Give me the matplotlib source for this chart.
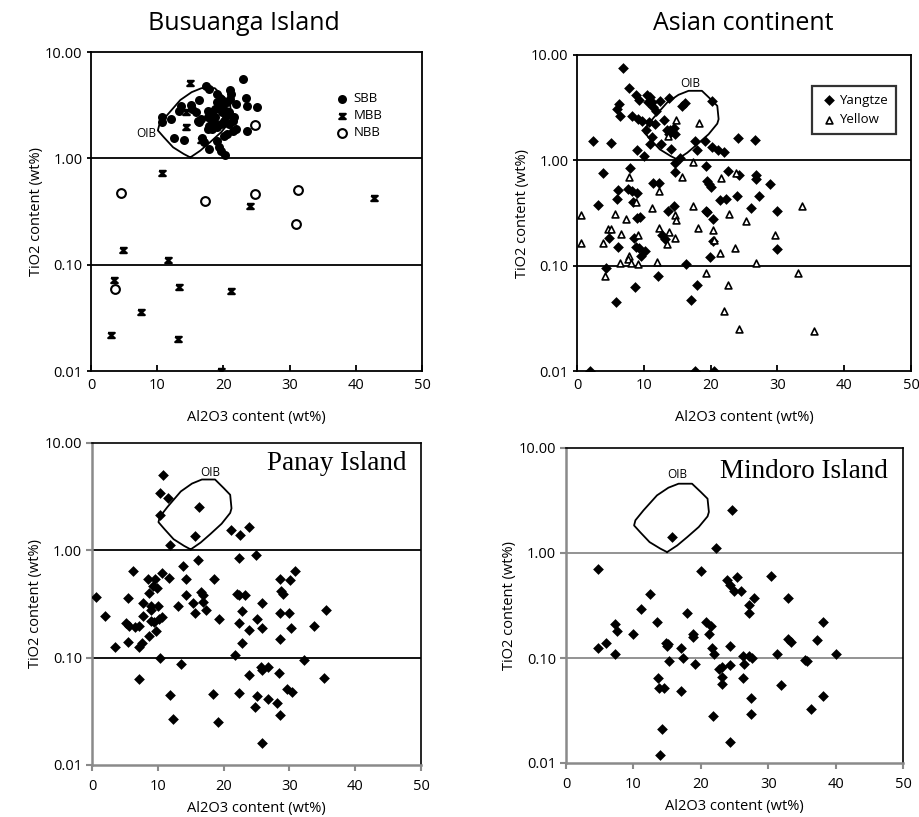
import matplotlib
matplotlib.use("Agg")
import matplotlib.pyplot as plt
import numpy as np
from matplotlib.path import Path
from matplotlib.ticker import NullLocator

# ---------------- data ----------------
oib_al = [15.0, 14.0, 12.4, 11.0, 10.1, 10.3, 11.5, 13.5, 15.2, 16.7, 18.7, 20.0, 21.0, 21.2,
          21.0, 19.7, 18.0, 16.5, 15.0]
oib_ti = [1.02, 1.10, 1.27, 1.58, 1.83, 2.05, 2.55, 3.54, 4.19, 4.57, 4.57, 3.81, 3.29, 2.46,
          2.23, 1.77, 1.42, 1.18, 1.02]

# Busuanga Island
sbb_al = [23.0, 17.3, 17.8, 19.1, 21.0, 21.1, 21.0, 19.6, 20.6, 19.1, 21.9, 23.4, 23.5, 25.1,
          16.3, 15.1, 13.6, 13.3, 10.8, 12.1, 10.8, 12.6, 14.1, 16.3, 16.1, 16.6, 17.6, 18.3,
          18.8, 19.3, 19.8, 20.4, 20.1, 19.6, 19.1, 18.3, 17.6, 17.8, 18.6, 20.9, 21.4, 21.6,
          21.9, 21.4, 20.6, 20.1, 23.6, 16.7, 17.1, 17.8, 19.1, 19.3, 19.6, 20.2, 17.6, 19.8,
          20.4, 20.9, 18.1, 18.8, 15.8, 15.3]
sbb_ti = [5.57, 4.75, 4.49, 4.03, 4.39, 4.03, 3.61, 3.61, 3.36, 3.36, 3.24, 3.69, 3.13, 3.02,
          3.54, 3.20, 3.13, 2.81, 2.47, 2.34, 2.18, 1.57, 1.50, 2.18, 2.26, 2.34, 2.43, 2.71,
          2.91, 3.02, 2.71, 2.52, 2.26, 2.10, 1.96, 1.89, 1.89, 2.03, 2.18, 2.10, 2.26, 2.43,
          1.89, 1.79, 1.69, 1.63, 1.82, 1.55, 1.41, 1.22, 1.47, 1.29, 1.18, 1.08, 2.81, 3.13,
          2.81, 2.71, 2.34, 2.43, 2.71, 2.91]
mbb_al = [15.0, 14.3, 14.4, 16.6, 10.8, 42.7, 24.0, 4.8, 11.6, 3.4, 13.3, 21.1, 7.6, 3.0, 13.1, 19.6]
mbb_ti = [5.07, 2.75, 1.99, 1.49, 0.73, 0.42, 0.36, 0.138, 0.111, 0.072, 0.061, 0.057, 0.036,
          0.022, 0.020, 0.010]
nbb_al = [24.8, 4.5, 17.2, 24.7, 31.3, 30.9, 3.7]
nbb_ti = [2.07, 0.47, 0.40, 0.46, 0.50, 0.24, 0.059]

# Asian continent
yangtze_al = [6.85, 7.8, 8.8, 9.35, 6.3, 5.95, 6.45, 8.2, 9.2, 9.75, 10.45, 10.95, 11.2, 10.7,
              11.45, 11.85, 12.45, 13.8, 10.85, 11.7, 10.35, 12.95, 13.45, 13.95, 13.7, 14.45,
              14.7, 16.2, 15.7, 20.2, 2.35, 5.1, 11.25, 10.95, 12.55, 14.1, 8.95, 10.1, 15.35,
              17.6, 17.95, 19.1, 20.2, 21.1, 22.05, 24.1, 26.7, 14.7, 7.95, 19.35, 3.95, 14.6,
              22.55, 24.2, 26.8, 26.8, 28.85, 11.45, 12.35, 19.45, 19.75, 20.05, 6.2, 7.6, 8.2,
              8.95, 6.05, 8.35, 3.2, 21.45, 22.35, 23.95, 27.25, 14.5, 13.55, 19.3, 19.45, 20.3,
              26.1, 29.95, 9.45, 8.95, 4.75, 8.55, 12.75, 13.1, 20.35, 6.2, 8.8, 9.35, 10.2, 9.6,
              19.85, 29.95, 4.35, 16.35, 12.2, 8.75, 17.95, 17.05, 5.8, 2.0, 17.7, 20.5]
yangtze_ti = [7.5, 4.87, 4.2, 3.75, 3.44, 3.08, 2.61, 2.61, 2.46, 2.37, 4.2, 3.97, 3.56, 3.56,
              3.2, 2.93, 3.62, 3.89, 2.31, 2.22, 1.95, 2.39, 1.95, 1.92, 1.76, 2.04, 1.76, 3.49,
              3.31, 3.62, 1.52, 1.46, 1.66, 1.42, 1.44, 1.29, 1.26, 1.09, 1.06, 1.51, 1.26, 1.51,
              1.34, 1.24, 1.2, 1.63, 1.57, 0.94, 0.85, 0.89, 0.75, 0.78, 0.79, 0.72, 0.72, 0.67,
              0.59, 0.61, 0.61, 0.64, 0.59, 0.56, 0.52, 0.53, 0.51, 0.49, 0.43, 0.40, 0.38, 0.42,
              0.43, 0.46, 0.46, 0.37, 0.33, 0.33, 0.32, 0.28, 0.35, 0.33, 0.29, 0.284, 0.185,
              0.185, 0.195, 0.179, 0.17, 0.151, 0.149, 0.146, 0.139, 0.123, 0.122, 0.143, 0.096,
              0.103, 0.079, 0.063, 0.065, 0.047, 0.045, 0.010, 0.010, 0.010]
yellow_al = [14.85, 18.2, 13.6, 17.35, 7.8, 15.7, 21.55, 23.85, 12.35, 8.85, 11.2, 17.35, 33.7,
             0.55, 5.7, 7.3, 14.6, 14.85, 22.7, 25.35, 4.6, 5.1, 12.3, 13.8, 18.1, 20.3, 6.55,
             9.2, 14.6, 29.7, 0.55, 3.95, 13.45, 20.45, 23.6, 21.35, 7.85, 7.7, 6.45, 8.1, 9.1,
             12.05, 26.85, 4.2, 19.3, 33.1, 22.6, 21.95, 24.3, 35.55]
yellow_ti = [2.43, 2.26, 1.69, 0.96, 0.69, 0.70, 0.68, 0.75, 0.51, 0.40, 0.35, 0.37, 0.37, 0.30,
             0.31, 0.28, 0.30, 0.27, 0.31, 0.265, 0.225, 0.225, 0.23, 0.21, 0.23, 0.22, 0.20,
             0.195, 0.184, 0.195, 0.163, 0.165, 0.159, 0.175, 0.146, 0.131, 0.123, 0.115, 0.105,
             0.107, 0.104, 0.109, 0.107, 0.080, 0.086, 0.085, 0.066, 0.037, 0.025, 0.024]

# Panay Island
panay_al = [10.8, 10.4, 11.5, 16.2, 10.4, 15.7, 11.9, 21.2, 22.5, 23.9, 24.9, 22.4, 16.1, 13.9,
            6.2, 10.7, 11.7, 8.5, 9.5, 9.9, 9.3, 14.3, 18.5, 28.5, 30.1, 30.9, 0.56, 5.5, 8.6,
            14.3, 16.6, 16.9, 22.0, 22.3, 23.2, 28.7, 29.1, 7.8, 8.9, 10.0, 13.1, 15.3, 16.9,
            17.3, 25.9, 1.9, 7.7, 9.0, 8.9, 9.4, 10.2, 10.7, 15.7, 19.3, 22.8, 22.4, 25.0, 28.6,
            29.9, 35.6, 5.2, 5.6, 6.6, 7.1, 9.7, 23.8, 25.9, 30.2, 33.7, 8.6, 5.4, 3.5, 7.2, 7.6,
            22.8, 28.5, 21.7, 10.4, 32.2, 13.5, 25.7, 25.9, 26.8, 23.8, 28.4, 7.2, 35.2, 29.7,
            30.4, 11.9, 18.4, 22.3, 25.1, 26.7, 28.1, 24.8, 28.5, 12.3, 19.1, 25.8]
panay_ti = [5.07, 3.42, 3.07, 2.52, 2.13, 1.36, 1.12, 1.56, 1.39, 1.64, 0.905, 0.85, 0.82, 0.72,
            0.64, 0.61, 0.55, 0.54, 0.54, 0.45, 0.47, 0.54, 0.54, 0.54, 0.53, 0.64, 0.365, 0.357,
            0.40, 0.38, 0.41, 0.38, 0.39, 0.38, 0.38, 0.42, 0.39, 0.32, 0.30, 0.30, 0.305, 0.32,
            0.33, 0.28, 0.32, 0.243, 0.246, 0.28, 0.22, 0.215, 0.23, 0.24, 0.26, 0.23, 0.27,
            0.21, 0.23, 0.26, 0.26, 0.28, 0.21, 0.196, 0.193, 0.196, 0.177, 0.18, 0.19, 0.19,
            0.196, 0.158, 0.14, 0.126, 0.126, 0.137, 0.137, 0.149, 0.106, 0.099, 0.096, 0.087,
            0.082, 0.076, 0.081, 0.069, 0.072, 0.063, 0.065, 0.051, 0.048, 0.045, 0.046, 0.047,
            0.044, 0.041, 0.038, 0.035, 0.029, 0.027, 0.025, 0.016]

# Mindoro Island
mindoro_al = [24.6, 15.7, 22.2, 4.7, 20.0, 25.4, 30.4, 23.9, 24.4, 24.9, 25.9, 12.4, 27.9, 33.0,
              27.2, 27.2, 11.2, 17.9, 13.5, 20.7, 21.5, 38.1, 7.3, 7.6, 9.9, 18.8, 18.8, 21.2,
              6.0, 14.9, 15.2, 15.0, 17.0, 4.7, 21.7, 21.9, 24.4, 32.9, 33.4, 37.3, 7.2, 17.3,
              15.3, 19.1, 26.2, 27.2, 27.6, 26.4, 31.3, 35.5, 35.7, 40.1, 22.7, 23.2, 24.3, 23.1,
              23.2, 26.3, 13.6, 13.8, 14.6, 17.0, 31.9, 27.4, 38.1, 36.4, 27.5, 21.8, 14.3, 24.3,
              13.9]
mindoro_ti = [2.55, 1.42, 1.12, 0.71, 0.67, 0.59, 0.60, 0.55, 0.50, 0.43, 0.43, 0.41, 0.37, 0.37,
              0.32, 0.27, 0.29, 0.27, 0.22, 0.22, 0.20, 0.22, 0.21, 0.18, 0.17, 0.17, 0.16, 0.17,
              0.14, 0.14, 0.137, 0.13, 0.125, 0.124, 0.125, 0.11, 0.13, 0.153, 0.142, 0.15, 0.108,
              0.10, 0.093, 0.087, 0.104, 0.104, 0.099, 0.088, 0.11, 0.095, 0.093, 0.11, 0.079,
              0.082, 0.085, 0.066, 0.056, 0.064, 0.065, 0.052, 0.052, 0.049, 0.055, 0.042, 0.043,
              0.033, 0.029, 0.028, 0.021, 0.016, 0.012]

y_ticks = [0.01, 0.1, 1, 10]
y_ticklabels = ["0.01", "0.10", "1.00", "10.00"]
x_ticks = [0, 10, 20, 30, 40, 50]

# ---------------- figure ----------------
plt.rcParams['font.family'] = ['Open Sans', 'DejaVu Sans']
fig = plt.figure(figsize=(9.19, 8.17), dpi=100)

W, H = 919.0, 817.0
def axpix(l, t, r, b):
    return fig.add_axes([l / W, 1 - b / H, (r - l) / W, (b - t) / H])

ax1 = axpix(91, 52, 422, 371)
ax2 = axpix(577, 55, 911, 371)
ax3 = axpix(92, 443, 421, 765)
ax4 = axpix(566, 448, 903, 763)

mbb_marker = Path([(-1, 0.8), (1, 0.8), (-1, -0.8), (1, -0.8), (-1, 0.8)],
                  [Path.MOVETO, Path.LINETO, Path.LINETO, Path.LINETO, Path.LINETO])

GREY = '#8a8a8a'

def setup(ax, bottom_style=False, hline_color='black'):
    ax.set_yscale('log')
    ax.set_xlim(0, 50)
    ax.set_ylim(0.01, 10)
    ax.set_yticks(y_ticks)
    ax.set_yticklabels(y_ticklabels)
    ax.yaxis.set_minor_locator(NullLocator())
    ax.set_xticks(x_ticks)
    ax.set_xticklabels([str(v) for v in x_ticks])
    for v in [1, 0.1]:
        ax.axhline(v, color=hline_color, lw=1.3, zorder=1)
    if bottom_style:
        for s in ['left', 'bottom']:
            ax.spines[s].set_color(GREY)
            ax.spines[s].set_linewidth(1.8)
        for s in ['top', 'right']:
            ax.spines[s].set_color('black')
            ax.spines[s].set_linewidth(1.2)
        ax.tick_params(axis='x', direction='out', length=4, width=1.5, color=GREY,
                       labelsize=10.5, pad=6)
        ax.tick_params(axis='y', direction='out', length=4, width=1.5, color=GREY,
                       labelsize=10.5, pad=3)
        ax.set_xlabel('Al2O3 content (wt%)', fontsize=10.5, labelpad=5)
    else:
        for s in ax.spines.values():
            s.set_color('black')
            s.set_linewidth(1.3)
        ax.tick_params(axis='x', direction='in', length=4, width=1.3, labelsize=10.5, pad=5)
        ax.tick_params(axis='y', direction='out', length=3, width=1.3, labelsize=10.5, pad=3)
        ax.set_xlabel('Al2O3 content (wt%)', fontsize=10.5, labelpad=12)
    ax.set_ylabel('TiO2 content (wt%)', fontsize=10.5, labelpad=1)
    ax.plot(oib_al, oib_ti, color='black', lw=1.3, zorder=2)

# Panel 1: Busuanga
setup(ax1)
ax1.scatter(sbb_al, sbb_ti, s=42, c='black', marker='o', zorder=3, label='SBB', linewidths=0)
ax1.scatter(mbb_al, mbb_ti, s=22, c='black', marker=mbb_marker, zorder=3, label='MBB',
            linewidths=1.6)
ax1.scatter(nbb_al, nbb_ti, s=40, facecolors='white', edgecolors='black', marker='o',
            zorder=3, label='NBB', linewidths=1.5)
ax1.text(9.9, 1.72, 'OIB', fontsize=8.5, ha='right', va='center')
ax1.legend(loc='upper left', bbox_to_anchor=(0.71, 0.89), frameon=False, fontsize=9.5,
           handletextpad=0.1, labelspacing=0.3, borderaxespad=0, handlelength=1.6,
           scatterpoints=1)
fig.text(244 / W, 1 - 24 / H, 'Busuanga Island', fontsize=18, ha='center', va='center')

# Panel 2: Asian continent
setup(ax2)
ax2.scatter(yangtze_al, yangtze_ti, s=30, c='black', marker='D', zorder=3, label='Yangtze',
            linewidths=0)
ax2.scatter(yellow_al, yellow_ti, s=24, facecolors='white', edgecolors='black', marker='^',
            zorder=3, label='Yellow', linewidths=1.2)
ax2.text(16.9, 5.4, 'OIB', fontsize=8.5, ha='center', va='center')
leg = ax2.legend(loc='upper left', bbox_to_anchor=(0.703, 0.902), frameon=True, fontsize=9.5,
                 handletextpad=0.1, labelspacing=0.5, borderaxespad=0, handlelength=1.4,
                 fancybox=False, borderpad=0.6, scatterpoints=1)
leg.get_frame().set_edgecolor('black')
leg.get_frame().set_linewidth(1.6)
fig.text(743 / W, 1 - 24 / H, 'Asian continent', fontsize=18, ha='center', va='center')

# Panel 3: Panay
setup(ax3, bottom_style=True, hline_color='black')
ax3.scatter(panay_al, panay_ti, s=30, c='black', marker='D', zorder=3, linewidths=0)
ax3.text(18.0, 5.3, 'OIB', fontsize=8.5, ha='center', va='center')
ax3.text(0.955, 0.935, 'Panay Island', transform=ax3.transAxes, ha='right', va='center',
         fontsize=19.5, family='Liberation Serif')

# Panel 4: Mindoro
setup(ax4, bottom_style=True, hline_color=GREY)
ax4.scatter(mindoro_al, mindoro_ti, s=30, c='black', marker='D', zorder=3, linewidths=0)
ax4.text(16.5, 5.6, 'OIB', fontsize=8.5, ha='center', va='center')
ax4.text(0.955, 0.925, 'Mindoro Island', transform=ax4.transAxes, ha='right', va='center',
         fontsize=19.5, family='Liberation Serif')

fig.savefig('out.png', dpi=100)
